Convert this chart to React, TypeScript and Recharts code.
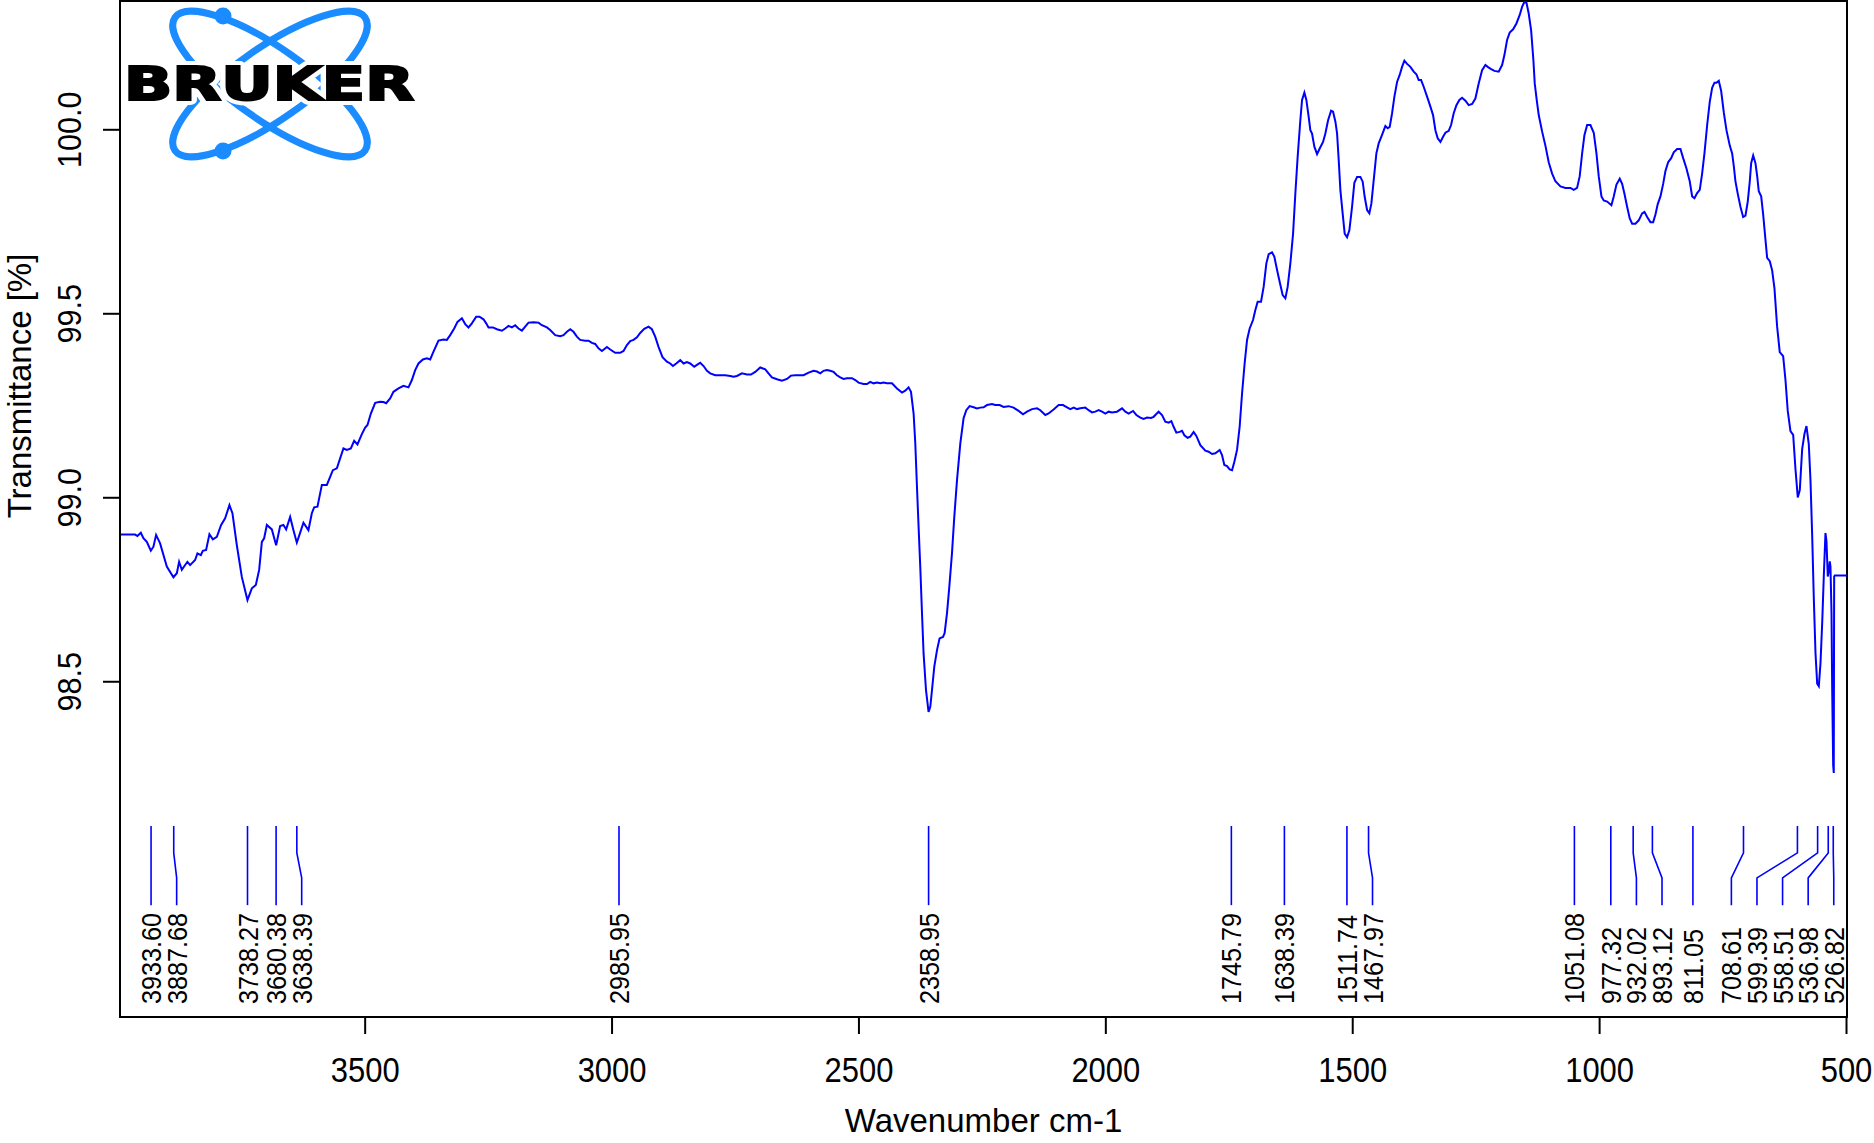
import React from 'react';
import { ComposedChart, Line, XAxis, YAxis, ReferenceArea, ReferenceDot } from 'recharts';

// ---------- data ----------
const WAVENUMBER = [
  3996.3, 3965.9, 3961.2, 3954.3, 3949.1, 3942.2, 3934.1, 3928.8, 3923.4, 3915.3,
  3901.7, 3888.3, 3881.4, 3876.8, 3871.3, 3860.0, 3854.5, 3844.4, 3839.7, 3832.8,
  3828.8, 3822.1, 3815.4, 3808.5, 3800.4, 3791.7, 3783.6, 3774.9, 3768.8, 3759.9,
  3749.8, 3738.4, 3729.5, 3721.4, 3714.7, 3709.2, 3704.6, 3699.1, 3689.0, 3680.3,
  3672.2, 3665.5, 3660.0, 3651.9, 3645.2, 3638.4, 3633.1, 3625.0, 3614.9, 3608.0,
  3603.3, 3596.6, 3587.7, 3577.6, 3565.4, 3557.3, 3544.0, 3537.1, 3529.0, 3522.3,
  3515.6, 3506.7, 3500.0, 3495.3, 3488.5, 3479.7, 3469.6, 3462.9, 3457.5, 3449.4,
  3442.7, 3432.5, 3422.4, 3412.3, 3405.4, 3398.7, 3392.0, 3383.1, 3375.0, 3368.3,
  3361.6, 3351.5, 3341.4, 3334.5, 3327.8, 3319.7, 3313.0, 3304.1, 3297.4, 3290.8,
  3283.9, 3275.2, 3268.5, 3260.4, 3254.9, 3250.2, 3241.3, 3233.2, 3223.1, 3216.4,
  3209.7, 3202.8, 3196.2, 3189.5, 3182.6, 3175.9, 3169.2, 3159.1, 3149.0, 3142.1,
  3131.9, 3125.3, 3115.1, 3105.0, 3098.3, 3091.4, 3084.7, 3078.1, 3071.2, 3064.5,
  3054.4, 3047.7, 3040.8, 3034.1, 3027.4, 3020.5, 3010.4, 3003.7, 2993.6, 2983.5,
  2976.8, 2969.9, 2963.2, 2956.5, 2949.6, 2943.0, 2934.8, 2926.1, 2919.3, 2912.6,
  2905.9, 2897.8, 2888.9, 2882.2, 2876.7, 2870.0, 2861.9, 2855.2, 2848.4, 2841.7,
  2833.6, 2828.1, 2821.4, 2814.7, 2807.8, 2801.2, 2791.0, 2780.9, 2770.8, 2760.6,
  2754.0, 2747.1, 2736.9, 2726.8, 2718.7, 2710.0, 2699.9, 2689.7, 2683.1, 2676.2,
  2666.0, 2655.9, 2645.8, 2637.7, 2629.0, 2612.2, 2602.0, 2591.9, 2585.0, 2578.3,
  2571.7, 2564.8, 2558.1, 2551.4, 2544.5, 2537.8, 2531.1, 2524.3, 2514.1, 2507.4,
  2500.8, 2490.6, 2483.7, 2477.1, 2470.4, 2463.5, 2456.8, 2450.1, 2443.2, 2433.1,
  2423.0, 2412.8, 2406.2, 2399.5, 2394.6, 2389.3, 2385.9, 2382.5, 2379.2, 2375.8,
  2372.3, 2369.1, 2364.2, 2359.0, 2355.5, 2352.1, 2347.4, 2341.9, 2336.7, 2329.8,
  2326.5, 2321.7, 2317.0, 2311.6, 2306.9, 2301.4, 2294.7, 2288.1, 2282.6, 2275.9,
  2267.8, 2260.9, 2254.2, 2247.5, 2240.7, 2230.5, 2223.9, 2215.1, 2207.0, 2196.9,
  2186.8, 2176.6, 2167.7, 2159.6, 2149.5, 2139.4, 2132.7, 2122.6, 2115.9, 2105.8,
  2095.6, 2086.7, 2078.6, 2071.9, 2065.2, 2058.3, 2051.7, 2041.5, 2034.9, 2028.0,
  2021.3, 2014.6, 2007.7, 2001.0, 1994.4, 1987.5, 1977.3, 1967.2, 1960.5, 1953.8,
  1944.9, 1938.2, 1930.1, 1923.5, 1916.6, 1908.5, 1903.2, 1893.1, 1886.2, 1879.5,
  1872.8, 1867.3, 1862.7, 1857.2, 1850.5, 1845.7, 1841.0, 1834.3, 1828.9, 1822.2,
  1816.7, 1808.6, 1798.5, 1791.8, 1784.9, 1778.2, 1769.5, 1764.7, 1760.0, 1754.5,
  1749.3, 1744.4, 1739.7, 1734.3, 1729.0, 1724.1, 1718.9, 1714.0, 1708.7, 1701.9,
  1697.2, 1692.5, 1685.7, 1680.4, 1674.9, 1670.2, 1663.4, 1658.7, 1653.2, 1648.0,
  1641.9, 1636.4, 1631.8, 1626.3, 1620.8, 1616.2, 1611.5, 1606.1, 1602.6, 1597.9,
  1593.9, 1589.2, 1585.8, 1582.4, 1577.7, 1572.2, 1566.9, 1560.1, 1555.4, 1549.9,
  1543.8, 1539.8, 1535.1, 1531.7, 1528.4, 1525.0, 1520.4, 1516.3, 1511.5, 1506.8,
  1501.3, 1496.7, 1491.2, 1484.5, 1479.8, 1475.8, 1470.9, 1466.3, 1462.2, 1457.5,
  1452.1, 1447.4, 1440.6, 1433.9, 1429.2, 1425.1, 1420.3, 1415.6, 1410.2, 1404.9,
  1400.1, 1395.4, 1389.9, 1383.2, 1376.5, 1371.1, 1366.4, 1361.5, 1356.3, 1349.4,
  1342.7, 1337.3, 1332.6, 1327.9, 1322.4, 1317.0, 1312.3, 1305.6, 1300.8, 1295.5,
  1290.0, 1284.0, 1278.5, 1271.8, 1265.1, 1258.2, 1251.6, 1244.9, 1238.0, 1231.3,
  1226.6, 1219.7, 1213.1, 1204.4, 1197.5, 1192.8, 1187.4, 1182.1, 1175.2, 1168.5,
  1161.8, 1157.0, 1152.3, 1148.2, 1143.6, 1138.7, 1134.1, 1131.4, 1127.4, 1123.3,
  1116.4, 1109.8, 1103.1, 1096.2, 1089.5, 1079.4, 1069.2, 1059.1, 1052.4, 1045.6,
  1040.3, 1035.4, 1030.8, 1025.3, 1018.6, 1011.9, 1006.4, 1001.8, 996.3, 991.7,
  984.8, 976.1, 971.4, 965.9, 959.2, 954.4, 949.7, 944.3, 939.0, 934.1,
  927.5, 920.8, 913.9, 909.2, 903.7, 897.1, 891.6, 886.9, 882.3, 876.8,
  871.3, 866.7, 861.2, 855.1, 849.9, 843.0, 836.3, 830.8, 824.1, 817.5,
  812.6, 807.9, 802.5, 797.2, 792.4, 787.7, 782.2, 777.0, 772.1, 767.4,
  763.4, 758.7, 753.9, 748.6, 743.1, 736.4, 731.6, 728.3, 724.9, 720.2,
  714.8, 709.3, 704.6, 700.0, 695.9, 693.1, 689.0, 684.4, 680.9, 677.7,
  672.8, 668.8, 664.1, 660.7, 655.4, 650.6, 645.9, 640.5, 635.2, 628.3,
  623.6, 619.0, 613.5, 608.0, 603.3, 598.7, 594.6, 589.8, 585.1, 581.1,
  576.4, 573.0, 569.5, 566.3, 562.8, 559.4, 556.1, 552.7, 549.2, 546.0,
  542.6, 540.6, 537.9, 535.9, 533.9, 532.5, 530.4, 529.0, 527.0, 525.8,
  525.0, 523.7, 499.0,
];

const TRANSMITTANCE = [
  98.900, 98.900, 98.896, 98.905, 98.890, 98.880, 98.856, 98.867, 98.899, 98.876,
  98.813, 98.784, 98.795, 98.826, 98.804, 98.826, 98.817, 98.831, 98.849, 98.844,
  98.856, 98.858, 98.901, 98.887, 98.894, 98.926, 98.944, 98.980, 98.958, 98.871,
  98.785, 98.722, 98.754, 98.763, 98.804, 98.880, 98.890, 98.926, 98.914, 98.871,
  98.923, 98.926, 98.914, 98.948, 98.912, 98.878, 98.899, 98.932, 98.912, 98.958,
  98.974, 98.976, 99.035, 99.035, 99.075, 99.080, 99.134, 99.130, 99.134, 99.155,
  99.145, 99.173, 99.191, 99.198, 99.229, 99.258, 99.261, 99.260, 99.257, 99.270,
  99.288, 99.297, 99.304, 99.300, 99.320, 99.347, 99.365, 99.376, 99.379, 99.376,
  99.397, 99.427, 99.430, 99.429, 99.442, 99.460, 99.478, 99.488, 99.472, 99.463,
  99.474, 99.492, 99.492, 99.485, 99.474, 99.463, 99.463, 99.458, 99.454, 99.460,
  99.467, 99.463, 99.469, 99.460, 99.454, 99.465, 99.476, 99.477, 99.476, 99.469,
  99.463, 99.456, 99.442, 99.439, 99.442, 99.451, 99.458, 99.451, 99.438, 99.429,
  99.427, 99.427, 99.421, 99.418, 99.406, 99.399, 99.410, 99.403, 99.394, 99.394,
  99.399, 99.415, 99.426, 99.429, 99.436, 99.448, 99.459, 99.465, 99.458, 99.438,
  99.410, 99.382, 99.370, 99.365, 99.358, 99.365, 99.374, 99.365, 99.369, 99.365,
  99.356, 99.361, 99.367, 99.358, 99.345, 99.338, 99.333, 99.333, 99.333, 99.331,
  99.329, 99.331, 99.338, 99.335, 99.335, 99.342, 99.354, 99.349, 99.338, 99.327,
  99.322, 99.318, 99.323, 99.332, 99.333, 99.333, 99.340, 99.345, 99.343, 99.338,
  99.345, 99.347, 99.345, 99.342, 99.333, 99.327, 99.323, 99.325, 99.325, 99.320,
  99.313, 99.309, 99.309, 99.315, 99.311, 99.313, 99.311, 99.313, 99.311, 99.311,
  99.297, 99.286, 99.291, 99.300, 99.288, 99.229, 99.148, 99.030, 98.921, 98.812,
  98.686, 98.577, 98.477, 98.418, 98.432, 98.477, 98.541, 98.586, 98.618, 98.622,
  98.632, 98.686, 98.758, 98.849, 98.948, 99.048, 99.148, 99.216, 99.238, 99.249,
  99.246, 99.243, 99.245, 99.246, 99.252, 99.255, 99.252, 99.252, 99.247, 99.249,
  99.245, 99.236, 99.227, 99.234, 99.241, 99.243, 99.238, 99.225, 99.229, 99.240,
  99.252, 99.252, 99.246, 99.241, 99.245, 99.241, 99.243, 99.245, 99.238, 99.232,
  99.234, 99.238, 99.234, 99.229, 99.234, 99.232, 99.234, 99.243, 99.234, 99.229,
  99.236, 99.225, 99.218, 99.214, 99.218, 99.217, 99.220, 99.234, 99.225, 99.207,
  99.204, 99.208, 99.193, 99.177, 99.179, 99.182, 99.170, 99.163, 99.166, 99.179,
  99.168, 99.143, 99.128, 99.125, 99.119, 99.121, 99.130, 99.116, 99.089, 99.086,
  99.077, 99.075, 99.098, 99.130, 99.193, 99.284, 99.365, 99.429, 99.460, 99.483,
  99.510, 99.533, 99.533, 99.573, 99.637, 99.662, 99.667, 99.655, 99.619, 99.587,
  99.551, 99.542, 99.573, 99.637, 99.718, 99.827, 99.927, 100.026, 100.081, 100.101,
  100.081, 100.035, 99.999, 99.990, 99.954, 99.934, 99.949, 99.967, 99.990, 100.026,
  100.052, 100.049, 100.022, 99.990, 99.918, 99.836, 99.773, 99.718, 99.708, 99.727,
  99.791, 99.856, 99.872, 99.872, 99.859, 99.818, 99.782, 99.773, 99.800, 99.863,
  99.936, 99.963, 99.986, 100.010, 100.004, 100.008, 100.045, 100.090, 100.130, 100.149,
  100.171, 100.188, 100.179, 100.171, 100.158, 100.151, 100.135, 100.135, 100.117, 100.090,
  100.063, 100.040, 99.999, 99.977, 99.967, 99.981, 99.992, 99.997, 100.013, 100.045,
  100.067, 100.081, 100.087, 100.079, 100.067, 100.070, 100.085, 100.126, 100.162, 100.176,
  100.171, 100.165, 100.160, 100.158, 100.176, 100.203, 100.244, 100.264, 100.273, 100.289,
  100.312, 100.334, 100.348, 100.346, 100.316, 100.270, 100.189, 100.126, 100.081, 100.040,
  99.995, 99.957, 99.912, 99.881, 99.860, 99.846, 99.842, 99.842, 99.837, 99.842,
  99.874, 99.936, 99.985, 100.013, 100.013, 99.992, 99.936, 99.874, 99.819, 99.808,
  99.805, 99.795, 99.819, 99.851, 99.867, 99.853, 99.826, 99.791, 99.759, 99.745,
  99.745, 99.754, 99.773, 99.777, 99.763, 99.749, 99.749, 99.770, 99.798, 99.819,
  99.853, 99.888, 99.912, 99.923, 99.939, 99.948, 99.948, 99.923, 99.895, 99.860,
  99.819, 99.814, 99.828, 99.837, 99.881, 99.936, 100.013, 100.075, 100.114, 100.128,
  100.128, 100.133, 100.106, 100.048, 99.999, 99.957, 99.936, 99.902, 99.860, 99.826,
  99.791, 99.763, 99.767, 99.805, 99.860, 99.909, 99.930, 99.909, 99.874, 99.833,
  99.819, 99.770, 99.701, 99.652, 99.643, 99.618, 99.569, 99.465, 99.396, 99.385,
  99.320, 99.236, 99.181, 99.171, 99.077, 99.001, 99.021, 99.132, 99.174, 99.195,
  99.146, 99.049, 98.897, 98.730, 98.578, 98.495, 98.488, 98.550, 98.661, 98.786,
  98.904, 98.883, 98.786, 98.800, 98.827, 98.814, 98.689, 98.481, 98.273, 98.252,
  98.786, 98.789, 98.789,
];

const PEAKS = [
  3933.60, 3887.68, 3738.27, 3680.38, 3638.39, 2985.95, 2358.95, 1745.79, 1638.39, 1511.74,
  1467.97, 1051.08, 977.32, 932.02, 893.12, 811.05, 708.61, 599.39, 558.51, 536.98, 526.82,
];

const X_TICKS = [3500, 3000, 2500, 2000, 1500, 1000, 500];
const Y_TICKS = [98.5, 99.0, 99.5, 100.0];

// ---------- layout / style ----------
const W = 1874;
const H = 1143;
const X_DOMAIN: [number, number] = [499, 3996.5];
const Y_DOMAIN: [number, number] = [97.589, 100.35];
const BLUE = '#0000ff';
const LOGO_BLUE = '#1a8cff';
const FONT = "'Liberation Sans', Arial, Helvetica, sans-serif";

// peak-marker geometry (in transmittance units of the y axis)
const MARK_TOP = 98.108;
const MARK_BEND1 = 98.035;
const MARK_BEND2 = 97.967;
const MARK_BOTTOM = 97.893;
const LABEL_BASE = 97.624;
const LABEL_GAP = 51.84; // minimum label spacing in cm-1
const LABEL_MIN = 525.8; // right-most allowed label position

const spectrum = WAVENUMBER.map((w, i) => ({ w, t: TRANSMITTANCE[i] }));

function labelPositions(peaks: number[]): number[] {
  const pos = peaks.slice();
  for (let i = 1; i < pos.length; i++) pos[i] = Math.min(pos[i], pos[i - 1] - LABEL_GAP);
  pos[pos.length - 1] = Math.max(pos[pos.length - 1], LABEL_MIN);
  for (let i = pos.length - 2; i >= 0; i--) pos[i] = Math.max(pos[i], pos[i + 1] + LABEL_GAP);
  return pos;
}

const LABEL_POS = labelPositions(PEAKS);
const peakMarks = PEAKS.map((p, i) => [
  { w: p, t: MARK_TOP },
  { w: p, t: MARK_BEND1 },
  { w: LABEL_POS[i], t: MARK_BEND2 },
  { w: LABEL_POS[i], t: MARK_BOTTOM },
]);

const XTick = (props: any) => {
  const { x, y, payload } = props;
  return (
    <text
      transform={`translate(${x},${y + 48.3}) scale(0.9,1)`}
      textAnchor="middle"
      fontSize={34.4}
      fontFamily={FONT}
      fill="#000"
    >
      {payload.value}
    </text>
  );
};

const YTick = (props: any) => {
  const { x, y, payload } = props;
  return (
    <text
      transform={`translate(${x - 34.5},${y}) rotate(-90) scale(0.9,1)`}
      textAnchor="middle"
      dy="0.358em"
      fontSize={34}
      fontFamily={FONT}
      fill="#000"
    >
      {Number(payload.value).toFixed(1)}
    </text>
  );
};

const XTitle = (props: any) => {
  const vb = props.viewBox || { x: 120, y: 1017, width: 1727, height: 126 };
  return (
    <text x={vb.x + vb.width / 2} y={vb.y + 115} textAnchor="middle" fontSize={33} fontFamily={FONT} fill="#000">
      Wavenumber cm-1
    </text>
  );
};

const YTitle = (props: any) => {
  const vb = props.viewBox || { x: 0, y: 1, width: 120, height: 1016 };
  return (
    <text
      transform={`translate(${vb.x + 19},${vb.y + 385}) rotate(-90)`}
      textAnchor="middle"
      dy="0.358em"
      fontSize={33}
      fontFamily={FONT}
      fill="#000"
    >
      Transmittance [%]
    </text>
  );
};

const peakLabelShape = (text: string) => (props: any) => (
  <text
    transform={`translate(${props.cx},${props.cy}) rotate(-90) scale(0.9,1)`}
    textAnchor="start"
    dy="0.358em"
    fontSize={28}
    fontFamily={FONT}
    fill="#000"
  >
    {text}
  </text>
);

const BrukerLogo = () => (
  <svg
    width={W}
    height={H}
    style={{ position: 'absolute', left: 0, top: 0, pointerEvents: 'none' }}
  >
    <g fill="none" stroke={LOGO_BLUE} strokeWidth={7}>
      <ellipse cx={270} cy={84} rx={116} ry={36} transform="rotate(35 270 84)" />
      <ellipse cx={270} cy={84} rx={116} ry={36} transform="rotate(-35 270 84)" />
    </g>
    <circle cx={223} cy={16} r={8.5} fill={LOGO_BLUE} />
    <circle cx={223} cy={151} r={8.5} fill={LOGO_BLUE} />
    {/* white halo that breaks the orbits behind the lettering */}
    <text
      x={124}
      y={100}
      textLength={290}
      lengthAdjust="spacingAndGlyphs"
      fontFamily="'DejaVu Sans', Verdana, sans-serif"
      fontWeight={700}
      fontSize={46}
      fill="#fff"
      stroke="#fff"
      strokeWidth={10}
      strokeLinejoin="round"
    >
      BRUKER
    </text>
    <text
      x={124}
      y={100}
      textLength={290}
      lengthAdjust="spacingAndGlyphs"
      fontFamily="'DejaVu Sans', Verdana, sans-serif"
      fontWeight={700}
      fontSize={46}
      fill="#000"
      stroke="#000"
      strokeWidth={2.2}
      strokeLinejoin="miter"
    >
      BRUKER
    </text>
  </svg>
);

export default function App() {
  return (
    <div style={{ position: 'absolute', left: 0, top: 0, width: W, height: H, background: '#fff' }}>
      <ComposedChart
        width={W}
        height={H}
        data={spectrum}
        margin={{ top: 1, right: 27, bottom: 0, left: 0 }}
      >
        <XAxis
          dataKey="w"
          type="number"
          domain={X_DOMAIN}
          reversed
          allowDataOverflow
          ticks={X_TICKS}
          interval={0}
          height={126}
          tickSize={17}
          tickMargin={0}
          tick={<XTick />}
          axisLine={{ stroke: '#000', strokeWidth: 2 }}
          tickLine={{ stroke: '#000', strokeWidth: 2 }}
          label={<XTitle />}
        />
        <YAxis
          type="number"
          domain={Y_DOMAIN}
          allowDataOverflow
          ticks={Y_TICKS}
          interval={0}
          width={120}
          tickSize={17}
          tickMargin={0}
          tick={<YTick />}
          axisLine={{ stroke: '#000', strokeWidth: 2 }}
          tickLine={{ stroke: '#000', strokeWidth: 2 }}
          label={<YTitle />}
        />
        <ReferenceArea
          x1={X_DOMAIN[1]}
          x2={X_DOMAIN[0]}
          y1={Y_DOMAIN[0]}
          y2={Y_DOMAIN[1]}
          fill="none"
          fillOpacity={0}
          stroke="#000"
          strokeWidth={2}
          ifOverflow="visible"
        />
        <Line
          dataKey="t"
          type="linear"
          stroke={BLUE}
          strokeWidth={2}
          dot={false}
          activeDot={false}
          isAnimationActive={false}
        />
        {peakMarks.map((pts, i) => (
          <Line
            key={`m${i}`}
            data={pts}
            dataKey="t"
            type="linear"
            stroke={BLUE}
            strokeWidth={1.6}
            dot={false}
            activeDot={false}
            isAnimationActive={false}
          />
        ))}
        {PEAKS.map((p, i) => (
          <ReferenceDot
            key={`l${i}`}
            x={LABEL_POS[i]}
            y={LABEL_BASE}
            r={0}
            ifOverflow="visible"
            shape={peakLabelShape(p.toFixed(2))}
          />
        ))}
      </ComposedChart>
      <BrukerLogo />
    </div>
  );
}
